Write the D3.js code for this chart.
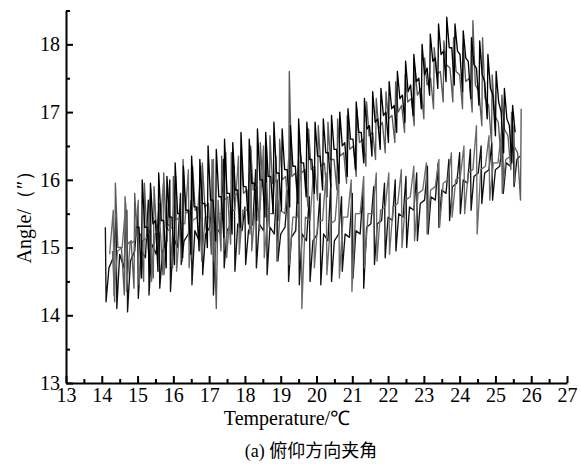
<!DOCTYPE html>
<html>
<head>
<meta charset="utf-8">
<script src="https://cdn.jsdelivr.net/npm/d3@7"></script>
<style>
  body { margin: 0; background: #fff; }
  .axis path, .axis line { stroke: #000; stroke-width: 2; }
</style>
</head>
<body>
<svg id="chart" width="581" height="467"></svg>
<script>
// Температурные циклы: [температура, угол]
const heating1 = [
  [14.10,15.3],[14.12,14.2],[14.2,14.7],[14.32,14.85],[14.40,15.45],[14.42,14.1],[14.5,14.9],[14.62,14.7],
  [14.70,15.55],[14.72,14.05],[14.8,14.8],[14.92,14.95],[15.0,15.5],[15.02,14.25],[15.1,14.95],[15.22,14.85],
  [15.3,15.7],[15.32,14.3],[15.4,15.05],[15.52,14.9],[15.6,15.65],[15.62,14.4],[15.7,14.95],[15.82,15.1],
  [15.9,16.0],[15.92,14.35],[16.0,15.15],[16.12,15.0],[16.2,15.8],[16.22,14.75],[16.3,15.1],[16.42,15.2],
  [16.5,15.7],[16.52,14.45],[16.6,15.25],[16.72,15.1],[16.8,15.9],[16.82,14.6],[16.9,15.2],[17.02,15.3],
  [17.1,16.1],[17.12,14.3],[17.2,15.3],[17.32,15.2],[17.4,16.3],[17.42,14.7],[17.5,15.25],[17.62,15.35],
  [17.7,16.2],[17.72,14.65],[17.8,15.35],[17.92,15.25],[18.0,15.6],[18.02,14.75],[18.1,15.25],[18.22,15.35],
  [18.3,16.15],[18.32,14.7],[18.4,15.35],[18.52,15.25],[18.6,16.5],[18.62,14.6],[18.7,15.3],[18.82,15.2],
  [18.9,16.0],[18.92,14.8],[19.0,15.2],[19.12,15.3],[19.2,15.85],[19.22,14.5],[19.3,15.15],[19.42,15.25],
  [19.5,16.3],[19.52,14.45],[19.6,15.2],[19.72,15.1],[19.8,15.75],[19.82,14.5],[19.9,15.1],[20.02,15.2],
  [20.1,15.8],[20.12,14.45],[20.2,15.2],[20.32,15.1],[20.4,15.95],[20.42,14.5],[20.5,15.1],[20.62,15.2],
  [20.7,15.75],[20.72,14.65],[20.8,15.2],[20.92,15.15],[21.0,15.8],[21.02,14.55],[21.1,15.25],[21.22,15.2],
  [21.3,15.85],[21.32,14.4],[21.4,15.3],[21.52,15.35],[21.6,15.9],[21.62,14.75],[21.7,15.35],[21.82,15.4],
  [21.9,15.95],[21.92,14.85],[22.0,15.45],[22.12,15.4],[22.2,16.0],[22.22,14.95],[22.3,15.5],[22.42,15.45],
  [22.5,16.05],[22.52,15.0],[22.6,15.6],[22.72,15.55],[22.8,16.1],[22.82,15.1],[22.9,15.65],[23.02,15.7],
  [23.1,16.2],[23.12,15.2],[23.2,15.75],[23.32,15.7],[23.4,16.25],[23.42,15.3],[23.5,15.85],[23.62,15.8],
  [23.7,16.3],[23.72,15.4],[23.8,15.9],[23.92,15.95],[24.0,16.4],[24.02,15.5],[24.1,16.0],[24.22,15.95],
  [24.3,16.45],[24.32,15.55],[24.4,16.05],[24.52,16.1],[24.6,16.5],[24.62,15.65],[24.7,16.1],[24.82,16.15],
  [24.9,16.55],[24.92,15.7],[25.0,16.15],[25.12,16.2],[25.2,16.6],[25.22,15.8],[25.3,16.25],[25.42,16.2],
  [25.5,16.65],[25.52,15.9],[25.6,16.3],[25.68,16.35]
];

const cooling1 = [
  [25.72,17.05],[25.7,15.7],[25.62,16.4],[25.52,16.5],[25.45,17.0],[25.43,16.15],[25.35,16.65],[25.25,16.75],
  [25.18,17.25],[25.16,16.3],[25.08,16.85],[24.98,16.95],[24.91,17.55],[24.89,16.55],[24.81,17.1],[24.71,17.2],
  [24.64,18.1],[24.62,16.8],[24.54,17.3],[24.44,17.4],[24.37,18.35],[24.35,17.0],[24.27,17.5],[24.17,17.45],
  [24.1,18.0],[24.08,17.05],[24.0,17.55],[23.9,17.6],[23.83,18.1],[23.81,17.15],[23.73,17.65],[23.63,17.7],
  [23.56,18.05],[23.54,17.15],[23.46,17.6],[23.36,17.55],[23.29,17.95],[23.27,17.05],[23.19,17.5],[23.09,17.4],
  [23.02,17.8],[23.0,16.9],[22.92,17.35],[22.82,17.25],[22.75,17.65],[22.73,16.8],[22.65,17.2],[22.55,17.15],
  [22.48,17.55],[22.46,16.7],[22.38,17.1],[22.28,17.0],[22.21,17.45],[22.19,16.55],[22.11,16.95],[22.01,16.9],
  [21.94,17.3],[21.92,16.4],[21.84,16.85],[21.74,16.75],[21.67,17.2],[21.65,16.3],[21.57,16.7],[21.47,16.65],
  [21.4,17.15],[21.38,16.2],[21.3,16.6],[21.2,16.55],[21.13,17.05],[21.11,16.05],[21.03,16.5],[20.93,16.45],
  [20.86,16.95],[20.84,15.95],[20.76,16.4],[20.66,16.35],[20.59,16.9],[20.57,15.85],[20.49,16.3],[20.39,16.3],
  [20.32,16.85],[20.3,15.75],[20.22,16.25],[20.12,16.2],[20.05,16.8],[20.03,15.7],[19.95,16.2],[19.85,16.15],
  [19.78,16.75],[19.76,15.6],[19.68,16.15],[19.58,16.1],[19.51,16.7],[19.49,15.55],[19.41,16.1],[19.31,16.05],
  [19.24,17.6],[19.22,15.45],[19.14,16.05],[19.04,16.0],[18.97,16.6],[18.95,15.4],[18.87,16.0],[18.77,15.95],
  [18.7,16.65],[18.68,15.3],[18.6,15.95],[18.5,15.9],[18.43,16.55],[18.41,15.25],[18.33,15.9],[18.23,15.85],
  [18.16,16.5],[18.14,15.2],[18.06,15.85],[17.96,15.8],[17.89,16.45],[17.87,15.1],[17.79,15.8],[17.69,15.75],
  [17.62,16.4],[17.6,15.05],[17.52,15.75],[17.42,15.7],[17.35,16.35],[17.33,14.95],[17.25,15.7],[17.2,14.1],
  [17.08,16.3],[17.06,14.9],[16.98,15.65],[16.88,15.6],[16.81,16.25],[16.79,14.9],[16.71,15.6],[16.61,15.55],
  [16.54,16.2],[16.52,14.85],[16.44,15.55],[16.34,15.5],[16.27,16.3],[16.25,14.8],[16.17,15.45],[16.07,15.4],
  [16.0,16.05],[15.98,14.7],[15.9,15.35],[15.8,15.3],[15.73,16.1],[15.71,14.6],[15.63,15.3],[15.53,15.25],
  [15.46,15.9],[15.44,14.55],[15.36,15.25],[15.26,15.2],[15.19,15.95],[15.17,14.5],[15.09,15.2],[14.99,15.15],
  [14.92,15.8],[14.9,14.4],[14.82,15.1],[14.72,15.05],[14.65,15.75],[14.63,14.3],[14.55,15.0],[14.45,15.0],
  [14.38,15.95],[14.36,14.2],[14.3,14.95]
];

const heating2 = [
  [14.22,14.9],[14.32,15.55],[14.34,14.3],[14.44,14.95],[14.57,15.0],[14.67,15.65],[14.69,14.35],[14.79,15.05],
  [14.92,15.1],[15.02,15.7],[15.04,14.45],[15.14,15.1],[15.27,15.15],[15.37,15.85],[15.39,14.5],[15.49,15.2],
  [15.62,15.25],[15.72,15.95],[15.74,14.6],[15.84,15.25],[15.97,15.3],[16.07,16.05],[16.09,14.65],[16.19,15.35],
  [16.32,15.35],[16.42,16.15],[16.44,14.7],[16.54,15.4],[16.67,15.45],[16.77,16.2],[16.79,14.8],[16.89,15.45],
  [17.02,15.45],[17.12,16.3],[17.14,14.8],[17.24,15.5],[17.37,15.5],[17.47,16.4],[17.49,14.85],[17.59,15.55],
  [17.72,15.55],[17.82,16.35],[17.84,14.9],[17.94,15.55],[18.07,15.55],[18.17,16.45],[18.19,14.95],[18.29,15.6],
  [18.42,15.55],[18.52,16.5],[18.54,14.85],[18.64,15.5],[18.77,15.5],[18.87,16.35],[18.89,14.8],[18.99,15.55],
  [19.12,15.5],[19.22,16.3],[19.24,14.75],[19.34,15.45],[19.47,15.45],[19.57,16.35],[19.59,14.1],[19.69,15.45],
  [19.82,15.4],[19.92,16.15],[19.94,14.7],[20.04,15.4],[20.17,15.4],[20.27,16.1],[20.29,14.6],[20.39,15.35],
  [20.52,15.4],[20.62,16.05],[20.64,14.55],[20.74,15.45],[20.87,15.45],[20.97,16.0],[20.99,14.35],[21.09,15.5],
  [21.22,15.5],[21.32,16.05],[21.34,14.7],[21.44,15.5],[21.57,15.5],[21.67,16.1],[21.69,14.8],[21.79,15.55],
  [21.92,15.6],[22.02,16.1],[22.04,14.9],[22.14,15.6],[22.27,15.65],[22.37,16.15],[22.39,15.0],[22.49,15.7],
  [22.62,15.75],[22.72,16.2],[22.74,15.1],[22.84,15.8],[22.97,15.85],[23.07,16.25],[23.09,15.2],[23.19,15.85],
  [23.32,15.9],[23.42,16.3],[23.44,15.3],[23.54,15.95],[23.67,16.0],[23.77,16.4],[23.79,15.45],[23.89,16.0],
  [24.02,16.05],[24.12,16.5],[24.14,15.5],[24.24,16.1],[24.37,16.15],[24.47,16.8],[24.49,15.2],[24.59,16.15],
  [24.72,16.2],[24.82,16.65],[24.84,15.7],[24.94,16.25],[25.07,16.25],[25.17,16.7],[25.19,15.8],[25.29,16.3],
  [25.42,16.35],[25.52,16.8],[25.54,15.95]
];

const cooling2 = [
  [25.55,16.7],[25.48,17.1],[25.46,16.25],[25.39,16.8],[25.32,16.9],[25.25,17.35],[25.23,16.4],[25.16,17.0],
  [25.09,17.15],[25.02,17.6],[25.0,16.65],[24.93,17.25],[24.86,17.35],[24.79,17.85],[24.77,16.9],[24.7,17.45],
  [24.63,17.55],[24.56,18.05],[24.54,17.1],[24.47,17.65],[24.4,17.7],[24.33,18.1],[24.31,17.2],[24.24,17.75],
  [24.17,17.8],[24.1,18.2],[24.08,17.3],[24.01,17.85],[23.94,17.9],[23.87,18.3],[23.85,17.4],[23.78,17.95],
  [23.71,17.95],[23.64,18.4],[23.62,17.45],[23.55,17.9],[23.48,17.85],[23.41,18.3],[23.39,17.35],[23.32,17.8],
  [23.25,17.75],[23.18,18.15],[23.16,17.25],[23.09,17.65],[23.02,17.55],[22.95,18.0],[22.93,17.05],[22.86,17.5],
  [22.79,17.45],[22.72,17.85],[22.7,16.95],[22.63,17.4],[22.56,17.3],[22.49,17.75],[22.47,16.85],[22.4,17.25],
  [22.33,17.2],[22.26,17.6],[22.24,16.7],[22.17,17.1],[22.1,17.05],[22.03,17.45],[22.01,16.55],[21.94,17.0],
  [21.87,16.95],[21.8,17.35],[21.78,16.45],[21.71,16.9],[21.64,16.85],[21.57,17.3],[21.55,16.35],[21.48,16.8],
  [21.41,16.75],[21.34,17.2],[21.32,16.25],[21.25,16.7],[21.18,16.7],[21.11,17.15],[21.09,16.15],[21.02,16.6],
  [20.95,16.6],[20.88,17.05],[20.86,16.05],[20.79,16.55],[20.72,16.5],[20.65,17.0],[20.63,15.95],[20.56,16.45],
  [20.49,16.45],[20.42,16.95],[20.4,15.9],[20.33,16.4],[20.26,16.4],[20.19,16.9],[20.17,15.85],[20.1,16.35],
  [20.03,16.35],[19.96,16.85],[19.94,15.8],[19.87,16.3],[19.8,16.3],[19.73,16.85],[19.71,15.75],[19.64,16.25],
  [19.57,16.25],[19.5,16.9],[19.48,15.65],[19.41,16.2],[19.34,16.2],[19.27,16.8],[19.25,15.6],[19.18,16.15],
  [19.11,16.15],[19.04,16.75],[19.02,15.55],[18.95,16.1],[18.88,16.1],[18.81,16.85],[18.79,15.5],[18.72,16.05],
  [18.65,16.05],[18.58,16.7],[18.56,15.45],[18.49,16.0],[18.42,16.0],[18.35,16.75],[18.33,15.4],[18.26,15.95],
  [18.19,15.95],[18.12,16.6],[18.1,15.35],[18.03,15.9],[17.96,15.9],[17.89,16.7],[17.87,15.3],[17.8,15.85],
  [17.73,15.85],[17.66,16.55],[17.64,15.2],[17.57,15.8],[17.5,15.8],[17.43,16.6],[17.41,15.15],[17.34,15.75],
  [17.27,15.75],[17.2,16.45],[17.18,15.1],[17.11,15.7],[17.04,15.7],[16.97,16.5],[16.95,15.0],[16.88,15.65],
  [16.81,15.65],[16.74,16.3],[16.72,14.95],[16.65,15.6],[16.58,15.6],[16.51,16.35],[16.49,14.9],[16.42,15.55],
  [16.35,15.55],[16.28,16.2],[16.26,14.85],[16.19,15.5],[16.12,15.5],[16.05,16.25],[16.03,14.75],[15.96,15.45],
  [15.89,15.45],[15.82,16.05],[15.8,14.7],[15.73,15.4],[15.66,15.4],[15.59,16.1],[15.57,14.65],[15.5,15.4],
  [15.43,15.35],[15.36,15.95],[15.34,14.6],[15.27,15.3],[15.2,15.3],[15.13,16.0],[15.11,14.55],[15.04,15.3],
  [14.97,15.3]
];

const series = [
  { data: heating1, color: "#111" },
  { data: cooling1, color: "#5a5a5a" },
  { data: heating2, color: "#6a6a6a" },
  { data: cooling2, color: "#000" }
];

const xTicks = [13, 14, 15, 16, 17, 18, 19, 20, 21, 22, 23, 24, 25, 26, 27];
const yTicks = [13, 14, 15, 16, 17, 18];

const serif = '"Liberation Serif", "Times New Roman", serif';
const svg = d3.select("#chart");

const x = d3.scaleLinear().domain([13, 27]).range([66, 567]);
const y = d3.scaleLinear().domain([13, 18.5]).range([383, 10.5]);

const line = d3.line().x(d => x(d[0])).y(d => y(d[1]));

// Кривые
svg.append("g")
  .selectAll("path")
  .data(series)
  .join("path")
  .attr("d", d => line(d.data))
  .attr("fill", "none")
  .attr("stroke", d => d.color)
  .attr("stroke-width", 1.35)
  .attr("stroke-linejoin", "round");

// Ось X
const xMinor = xTicks.slice(0, -1).map(v => v + 0.5);
svg.append("g")
  .attr("class", "axis")
  .attr("transform", `translate(0,${y(13)})`)
  .call(d3.axisBottom(x).tickValues(xMinor).tickSize(-4).tickFormat(""))
  .call(g => g.select(".domain").remove());
svg.append("g")
  .attr("class", "axis")
  .attr("transform", `translate(0,${y(13)})`)
  .call(d3.axisBottom(x).tickValues(xTicks).tickSize(-7).tickSizeOuter(0).tickPadding(5).tickFormat(d3.format("d")))
  .call(g => g.attr("font-family", null).attr("font-size", null))
  .selectAll("text")
  .style("font-family", serif)
  .style("font-size", "20px")
  .style("fill", "#000");

// Ось Y
const yMinor = yTicks.map(v => v + 0.5);
svg.append("g")
  .attr("class", "axis")
  .attr("transform", `translate(${x(13)},0)`)
  .call(d3.axisLeft(y).tickValues(yMinor).tickSize(-4).tickFormat(""))
  .call(g => g.select(".domain").remove());
svg.append("g")
  .attr("class", "axis")
  .attr("transform", `translate(${x(13)},0)`)
  .call(d3.axisLeft(y).tickValues(yTicks).tickSize(-7).tickSizeOuter(0).tickPadding(6).tickFormat(d3.format("d")))
  .call(g => g.attr("font-family", null).attr("font-size", null))
  .selectAll("text")
  .style("font-family", serif)
  .style("font-size", "20px")
  .style("fill", "#000");

// Подписи
svg.append("text")
  .attr("x", 287)
  .attr("y", 425)
  .attr("text-anchor", "middle")
  .style("font-family", serif)
  .style("font-size", "20px")
  .text("Temperature/℃");

svg.append("text")
  .attr("transform", "translate(31,212) rotate(-90)")
  .attr("text-anchor", "middle")
  .style("font-family", serif)
  .style("font-size", "20px")
  .text("Angle/（″）");

svg.append("text")
  .attr("x", 311)
  .attr("y", 457)
  .attr("text-anchor", "middle")
  .style("font-family", serif + ', "Noto Sans CJK SC"')
  .style("font-size", "18px")
  .text("(a) 俯仰方向夹角");
</script>
</body>
</html>
